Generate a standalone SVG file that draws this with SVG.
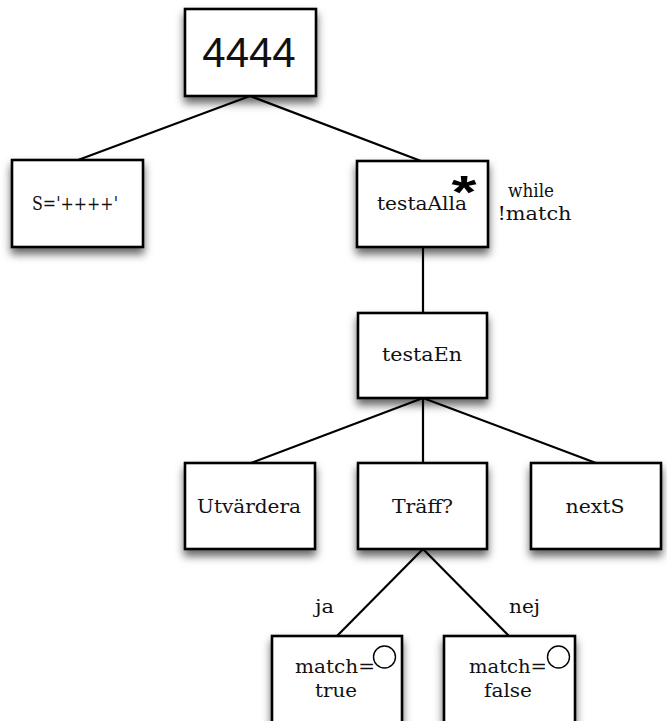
<svg xmlns="http://www.w3.org/2000/svg" width="667" height="721" viewBox="0 0 667 721">
  <defs>
    <filter id="shadow" x="-20%" y="-20%" width="140%" height="150%">
      <feDropShadow dx="0" dy="6" stdDeviation="4" flood-color="#000" flood-opacity="0.6"/>
    </filter>
  </defs>
  <style>
    .box { fill: #fff; stroke: #000; stroke-width: 2.6; filter: url(#shadow); }
    .lbl { font-family: "DejaVu Serif", "Liberation Serif", serif; font-size: 19px; fill: #111; text-anchor: middle; }
    .edge { stroke: #000; stroke-width: 2.2; fill: none; }
    .ring { fill: #fff; stroke: #000; stroke-width: 1.4; }
  </style>
  <rect width="667" height="721" fill="#fff"/>

  <!-- tree connectors -->
  <g id="connectors">
    <line class="edge" x1="250" y1="96" x2="78" y2="160"/>
    <line class="edge" x1="250" y1="96" x2="421" y2="161"/>
    <line class="edge" x1="423" y1="247" x2="423" y2="313"/>
    <line class="edge" x1="423" y1="398" x2="251" y2="463"/>
    <line class="edge" x1="423" y1="398" x2="423" y2="463"/>
    <line class="edge" x1="423" y1="398" x2="596" y2="463"/>
    <line class="edge" x1="423" y1="549" x2="337" y2="636"/>
    <line class="edge" x1="423" y1="549" x2="509" y2="636"/>
    <text class="lbl" x="324.5" y="613" textLength="19" lengthAdjust="spacingAndGlyphs">ja</text>
    <text class="lbl" x="524.5" y="613" textLength="31" lengthAdjust="spacingAndGlyphs">nej</text>
  </g>

  <g id="root">
    <rect class="box" x="185" y="9" width="131" height="87"/>
    <text x="249" y="67" font-family="Liberation Sans, Arial, sans-serif" font-size="42" text-anchor="middle" fill="#111">4444</text>
  </g>

  <g id="init-s">
    <rect class="box" x="12" y="160" width="131" height="87"/>
    <text class="lbl" x="75" y="210" textLength="86" lengthAdjust="spacingAndGlyphs">S='++++'</text>
  </g>

  <g id="testaAlla">
    <rect class="box" x="357" y="161" width="131" height="86"/>
    <text class="lbl" x="422" y="210" textLength="90" lengthAdjust="spacingAndGlyphs">testaAlla</text>
    <!-- repetition marker -->
    <text x="464" y="208" font-family="Liberation Sans, Arial, sans-serif" font-weight="bold" font-size="46" text-anchor="middle" fill="#000" textLength="25" lengthAdjust="spacingAndGlyphs">*</text>
  </g>
  <g id="loop-note">
    <text class="lbl" x="531" y="197" textLength="46" lengthAdjust="spacingAndGlyphs">while</text>
    <text class="lbl" x="534.5" y="220" textLength="74" lengthAdjust="spacingAndGlyphs">!match</text>
  </g>

  <g id="testaEn">
    <rect class="box" x="358" y="313" width="129" height="85"/>
    <text class="lbl" x="422" y="361" textLength="80" lengthAdjust="spacingAndGlyphs">testaEn</text>
  </g>

  <g id="utvardera">
    <rect class="box" x="185" y="463" width="130" height="86"/>
    <text class="lbl" x="249" y="513" textLength="104" lengthAdjust="spacingAndGlyphs">Utvärdera</text>
  </g>

  <g id="traff">
    <rect class="box" x="358" y="463" width="129" height="86"/>
    <text class="lbl" x="422.5" y="513" textLength="61" lengthAdjust="spacingAndGlyphs">Träff?</text>
  </g>

  <g id="nextS">
    <rect class="box" x="531" y="463" width="130" height="86"/>
    <text class="lbl" x="595" y="513" textLength="59" lengthAdjust="spacingAndGlyphs">nextS</text>
  </g>

  <g id="match-true">
    <rect class="box" x="272" y="636" width="130" height="110"/>
    <text class="lbl" x="335" y="673" textLength="80" lengthAdjust="spacingAndGlyphs">match=</text>
    <text class="lbl" x="336" y="697" textLength="42" lengthAdjust="spacingAndGlyphs">true</text>
    <circle class="ring" cx="384.5" cy="657" r="11"/>
  </g>

  <g id="match-false">
    <rect class="box" x="444" y="636" width="131" height="110"/>
    <text class="lbl" x="508" y="673" textLength="78" lengthAdjust="spacingAndGlyphs">match=</text>
    <text class="lbl" x="508" y="697" textLength="48" lengthAdjust="spacingAndGlyphs">false</text>
    <circle class="ring" cx="558.5" cy="657" r="11"/>
  </g>
</svg>
